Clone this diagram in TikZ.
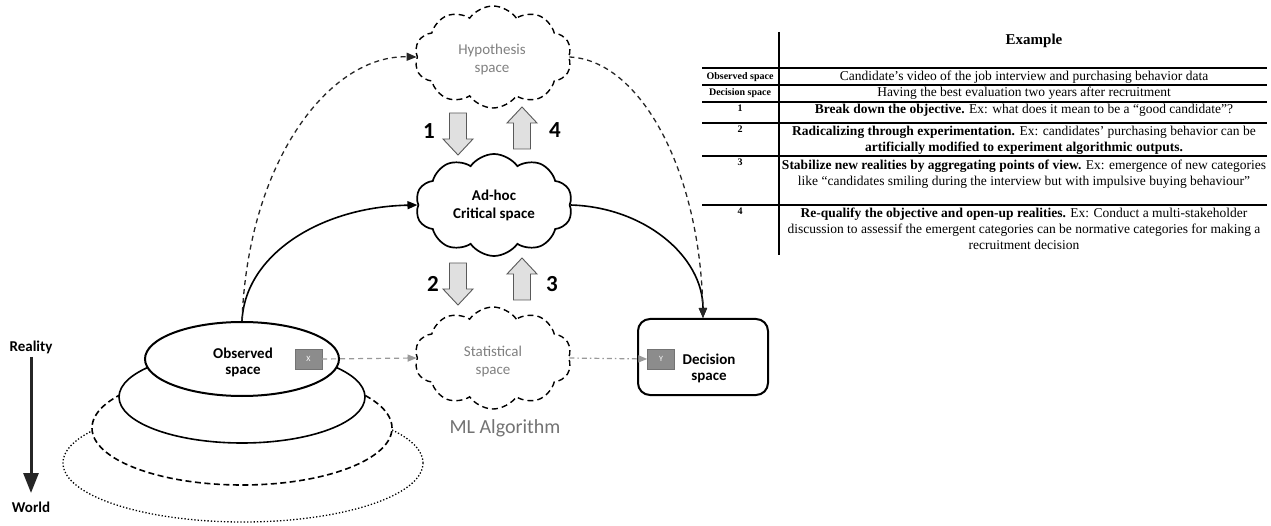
\documentclass[tikz,border=0pt]{standalone}
\usepackage{fontspec}
\setmainfont{Liberation Serif}
\newfontfamily\calfont{Carlito}
\usetikzlibrary{shapes.symbols,shapes.geometric,arrows.meta}

\tikzset{
  lbl/.style={font=\calfont\bfseries\fontsize{15}{18}\selectfont, align=center},
  puffy/.style={cloud, cloud puffs=10, cloud puff arc=110, aspect=1.55,
    minimum width=157pt, minimum height=102pt, inner sep=0pt, align=center},
  ghostcloud/.style={puffy, draw=black, line width=1.4pt, dash pattern=on 6pt off 4pt,
    text=black!50, font=\calfont\fontsize{15}{18}\selectfont},
  critcloud/.style={puffy, draw=black, line width=1.7pt, fill=white,
    font=\calfont\bfseries\fontsize{15}{18}\selectfont},
  hollow/.style={fill=black!12, draw=black!65, line width=0.9pt},
  numlbl/.style={font=\calfont\bfseries\fontsize{23}{26}\selectfont},
  varbox/.style={draw=black!55, fill=black!45, text=white, minimum width=27pt,
    minimum height=20pt, inner sep=0pt, font=\calfont\fontsize{8}{9}\selectfont},
  layer/.style={ellipse, fill=white, inner sep=0pt},
  solidlink/.style={line width=1.6pt, -{Triangle[length=10pt,width=8pt]}},
  dashlink/.style={line width=1.3pt, black!85, dash pattern=on 5pt off 4pt,
    -{Triangle[length=10pt,width=8pt]}},
  faintlink/.style={line width=1.2pt, black!40, -{Triangle[length=9pt,width=7pt]}},
  tabtext/.style={font=\fontsize{13.5}{16}\selectfont, align=center},
  tabkey/.style={font=\bfseries\fontsize{10}{12}\selectfont},
  rule/.style={line width=1.1pt}
}

\begin{document}
\begin{tikzpicture}[x=1pt,y=-1pt]
\useasboundingbox (0,0) rectangle (1271,526);

% stacked layers of reality, from the widest (world) up to the observed space
\node[layer, draw, dotted, line width=1.3pt, minimum width=360pt, minimum height=118pt] (world) at (243,463) {};
\node[layer, draw, dash pattern=on 6pt off 3.5pt, line width=1.6pt, minimum width=300pt, minimum height=114pt] (mid) at (242,428) {};
\node[layer, draw, line width=1.6pt, minimum width=246pt, minimum height=92pt] (near) at (242,397) {};
\node[layer, draw, line width=2pt, minimum width=194pt, minimum height=74pt, lbl] (obs) at (242,359) {};
\node[lbl] (obstext) at (243,362) {Observed\\[-2pt]space};
\node[varbox] (x) at (308.5,359) {X};

% reality axis
\node[lbl] (reality) at (31,347) {Reality};
\node[lbl] (worldlbl) at (31,507) {World};
\draw[line width=3pt, black!85, -{Triangle[length=20pt,width=15pt]}] (reality.south) -- (31,493);

% spaces
\node[ghostcloud] (hyp) at (493,57) {};
\node[font=\calfont\fontsize{15}{18}\selectfont, text=black!50, align=center] (hyptext) at (492,60) {Hypothesis\\space};
\node[critcloud] (crit) at (494,205) {Ad-hoc\\Critical space};
\node[ghostcloud] (stat) at (493,358) {};
\node[font=\calfont\fontsize{15}{18}\selectfont, text=black!50, align=center] (stattext) at (493,362) {Statistical\\space};
\node[font=\calfont\fontsize{20}{24}\selectfont, text=black!55] (ml) at (505,428) {ML Algorithm};

\node[draw, line width=2pt, rounded corners=12pt, minimum width=130pt, minimum height=76pt] (dec) at (703,357) {};
\node[lbl] (dectext) at (709,368) {Decision\\[-2pt]space};
\node[varbox] (y) at (661,359) {Y};

% hollow step arrows
\draw[hollow, shift={(458,134)}] (-8.5,-21) -- (8.5,-21) -- (8.5,5) -- (15,5) -- (0,21) -- (-15,5) -- (-8.5,5) -- cycle;
\draw[hollow, shift={(522,128)}] (-8.5,21) -- (8.5,21) -- (8.5,-5) -- (15,-5) -- (0,-21) -- (-15,-5) -- (-8.5,-5) -- cycle;
\draw[hollow, shift={(458,284)}] (-8.5,-21) -- (8.5,-21) -- (8.5,5) -- (15,5) -- (0,21) -- (-15,5) -- (-8.5,5) -- cycle;
\draw[hollow, shift={(522,279)}] (-8.5,21) -- (8.5,21) -- (8.5,-5) -- (15,-5) -- (0,-21) -- (-15,-5) -- (-8.5,-5) -- cycle;
\node[numlbl] (n1) at (429,131) {1};
\node[numlbl] (n4) at (555,130) {4};
\node[numlbl] (n2) at (433,284) {2};
\node[numlbl] (n3) at (552,284) {3};

% connectors
\draw[solidlink] (obs.north) .. controls (245,255) and (320,207) .. (crit.west);
\draw[solidlink] (crit.east) .. controls (644,207) and (703,256) .. (dec.north);
\draw[dashlink] (obs.north) .. controls (248,160) and (330,55) .. (hyp.west);
\draw[dashlink] (hyp.east) .. controls (640,60) and (700,170) .. (dec.north);
\draw[faintlink, dash pattern=on 5pt off 4pt] (x.east) -- (stat.west);
\draw[faintlink, dash pattern=on 5pt off 3pt on 1.5pt off 3pt] (stat.east) -- (y.west);

% example table
\draw[rule, line width=1.4pt] (779,32) -- (779,255);
\foreach \yy in {68,85,102,123,156,205} \draw[rule] (702,\yy) -- (1267,\yy);
\node[font=\bfseries\fontsize{15}{18}\selectfont] (head) at (1034,41) {Example};
\node[tabkey] (k0) at (740,77) {Observed space};
\node[tabkey] (k1) at (740,93) {Decision space};
\node[tabkey] (k2) at (740,108) {1};
\node[tabkey] (k3) at (740,129) {2};
\node[tabkey] (k4) at (740,162) {3};
\node[tabkey] (k5) at (740,211) {4};
\node[tabtext] (r0) at (1024,77) {Candidate’s video of the job interview and purchasing behavior data};
\node[tabtext] (r1) at (1024,93) {Having the best evaluation two years after recruitment};
\node[tabtext] (r2) at (1024,110) {\textbf{Break down the objective.} Ex: what does it mean to be a “good candidate”?};
\node[tabtext] (r3) at (1024,140) {\textbf{Radicalizing through experimentation.} Ex: candidates’ purchasing behavior can be\\ \textbf{artificially modified to experiment algorithmic outputs.}};
\node[tabtext] (r4) at (1024,174) {\textbf{Stabilize new realities by aggregating points of view.} Ex: emergence of new categories\\ like “candidates smiling during the interview but with impulsive buying behaviour”};
\node[tabtext] (r5) at (1024,229) {\textbf{Re-qualify the objective and open-up realities.} Ex: Conduct a multi-stakeholder\\ discussion to assessif the emergent categories can be normative categories for making a\\ recruitment decision};
\end{tikzpicture}
\end{document}
